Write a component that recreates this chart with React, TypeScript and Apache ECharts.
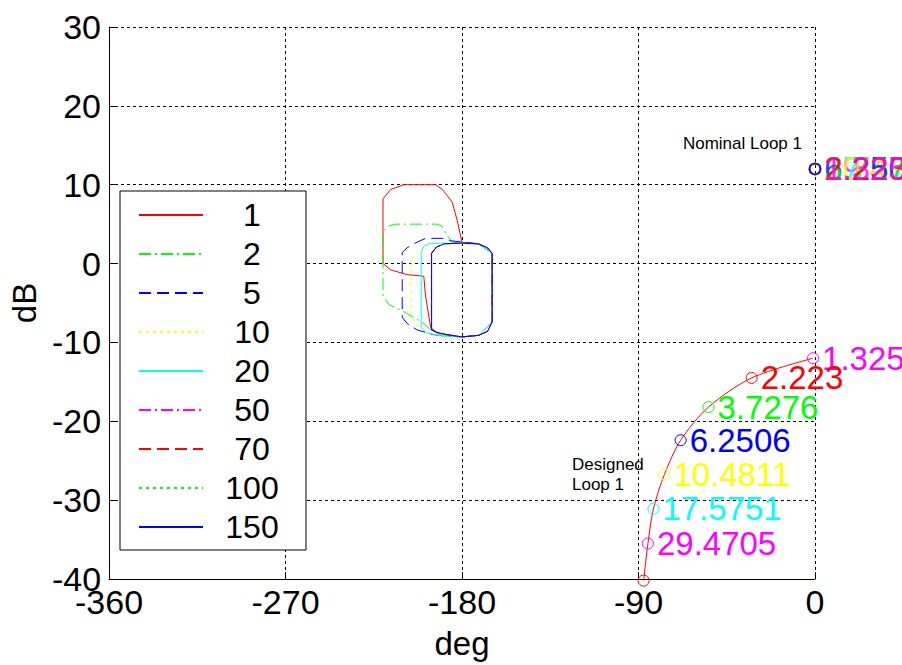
import React, { useEffect, useRef } from 'react';
import * as echarts from 'echarts';

// ---------- data ----------
const phaseTicks = [-360, -270, -180, -90, 0];
const dbTicks = [-40, -30, -20, -10, 0, 10, 20, 30];

const boundNames = ['1', '2', '5', '10', '20', '50', '70', '100', '150'];
const boundColors = ['#ff0000', '#00ff00', '#0000ff', '#ffff00', '#00ffff', '#ff00ff', '#ff0000', '#00ff00', '#0000ff'];
const boundDash: any[] = ['solid', [12, 4, 2, 4], [12, 6], [3, 4], 'solid', [12, 4, 2, 4], [12, 6], [3, 4], 'solid'];

// [deg, dB] contours
const bound1 = [[-171.5, 2.5], [-180, 2.7], [-182.5, 5.5], [-185, 7.8], [-190, 9.4], [-193.5, 10], [-209.6, 10], [-216.4, 9.4], [-220.3, 8.2], [-220.3, 0], [-216.4, -0.8], [-208, -1.4], [-199.5, -1.6], [-198.6, -4.1], [-196, -8.1], [-192.7, -8.8], [-187.6, -9.1], [-180, -9.3], [-171.5, -9.1], [-164.6, -7.4], [-164.6, 1.3], [-171.5, 2.5]];
const bound2 = [[-171.5, 2.5], [-185, 2.7], [-187.6, 3.6], [-190.5, 4.8], [-193, 5.0], [-214, 5.0], [-218, 4.7], [-220.3, 4.0], [-220.3, -4.1], [-217.3, -5.2], [-210.5, -6.0], [-200, -7.5], [-195, -8.6], [-188, -9.1], [-180, -9.3], [-171.5, -9.1], [-164.6, -7.4], [-164.6, 1.3], [-171.5, 2.5]];
const bound5 = [[-171.5, 2.5], [-186, 2.9], [-189.3, 3.2], [-198.6, 3.2], [-204.8, 2.5], [-208, 2.0], [-210.5, 1.4], [-210.5, -6.8], [-208, -7.6], [-203, -8.4], [-195, -9.0], [-188, -9.2], [-180, -9.3], [-171.5, -9.1], [-164.6, -7.4], [-164.6, 1.3], [-171.5, 2.5]];
const bound10 = [[-171.5, 2.5], [-190, 2.6], [-197, 2.6], [-199.4, 2.1], [-202.8, 1.5], [-205.9, 0.3], [-205.9, -6.6], [-202.8, -7.9], [-197, -8.8], [-190, -9.1], [-180, -9.3], [-171.5, -9.1], [-164.6, -7.4], [-164.6, 1.3], [-171.5, 2.5]];
const bound20 = [[-171.5, 2.5], [-190, 2.6], [-197, 2.5], [-199.5, 2.2], [-200.8, 1.5], [-200.8, -8.1], [-198, -8.8], [-190, -9.2], [-180, -9.3], [-171.5, -9.1], [-164.6, -7.4], [-164.6, 1.3], [-171.5, 2.5]];
const bound50 = [[-195.6, 1.3], [-193, 2.1], [-189, 2.5], [-180, 2.6], [-171.5, 2.5], [-167, 2.0], [-164.7, 1.3], [-164.7, -7.4], [-167, -8.6], [-171.5, -9.1], [-180, -9.3], [-188, -9.0], [-193, -8.7], [-195.6, -8.4], [-195.6, 1.3]];
const bound70 = [[-195.6, 1.3], [-193, 2.1], [-189, 2.5], [-180, 2.6], [-171.5, 2.5], [-167, 2.0], [-164.7, 1.3], [-164.7, -7.4], [-167, -8.6], [-171.5, -9.1], [-180, -9.3], [-188, -9.0], [-193, -8.7], [-195.6, -8.4], [-195.6, 1.3]];
const bound100 = [[-195.5, 1.3], [-193, 2.1], [-189, 2.5], [-180, 2.6], [-171.5, 2.5], [-167, 2.0], [-164.6, 1.3], [-164.6, -7.4], [-167, -8.6], [-171.5, -9.1], [-180, -9.3], [-188, -9.0], [-193, -8.7], [-195.5, -8.4], [-195.5, 1.3]];
const bound150 = [[-195.5, 1.3], [-193, 2.1], [-189, 2.5], [-180, 2.6], [-171.5, 2.5], [-167, 2.0], [-164.6, 1.3], [-164.6, -7.4], [-167, -8.6], [-171.5, -9.1], [-180, -9.3], [-188, -9.0], [-193, -8.7], [-195.5, -8.4], [-195.5, 1.3]];
const bounds = [bound1, bound2, bound5, bound10, bound20, bound50, bound70, bound100, bound150];

const designedPhase = [-1, -32.3, -54.3, -68.5, -76.8, -82.4, -85.2, -87.4];
const designedMag = [-12, -14.5, -18.2, -22.4, -26.75, -31.1, -35.5, -40.2];
const freqLabels = ['1.325', '2.223', '3.7276', '6.2506', '10.4811', '17.5751', '29.4705', ''];
const freqColors = ['#ff00ff', '#ff0000', '#00ff00', '#0000ff', '#ffff00', '#00ffff', '#ff00ff', '#ff0000'];

const nominalPhase = [0, 0, 0, 0, 0, 0, 0];
const nominalMag = [12, 12, 12, 12, 12, 12, 12];
const nominalLabels = ['29.4705', '17.5751', '10.4811', '6.2506', '3.7276', '2.223', '1.325'];
const nominalColors = ['#ff00ff', '#00ffff', '#ffff00', '#0000ff', '#00ff00', '#ff0000', '#ff00ff'];

const FONT = '"Liberation Sans", Arial, Helvetica, sans-serif';

function buildOption(): any {
  const boundSeries = bounds.map((b, i) => ({
    type: 'line',
    name: boundNames[i],
    data: b,
    symbol: 'none',
    showSymbol: false,
    silent: true,
    z: 2 + i,
    lineStyle: { color: boundColors[i], width: 1, type: boundDash[i] },
    itemStyle: { color: boundColors[i] },
  }));

  const designed = {
    type: 'line',
    name: 'Designed Loop 1',
    z: 20,
    clip: false,
    silent: true,
    smooth: 0.3,
    symbol: 'circle',
    symbolSize: 11,
    showSymbol: true,
    showAllSymbol: true,
    lineStyle: { color: '#ff0000', width: 1 },
    label: { show: true, position: 'right', distance: 3, fontSize: 33, fontFamily: FONT },
    data: designedPhase.map((x, i) => ({
      value: [x, designedMag[i]],
      itemStyle: { color: 'rgba(0,0,0,0)', borderColor: freqColors[i], borderWidth: 1 },
      label: { show: freqLabels[i] !== '', formatter: freqLabels[i], color: freqColors[i] },
    })),
  };

  const nominal = {
    type: 'scatter',
    name: 'Nominal Loop 1',
    z: 21,
    clip: false,
    silent: true,
    symbol: 'circle',
    symbolSize: 11,
    label: { show: true, position: 'right', distance: 3, fontSize: 33, fontFamily: FONT },
    data: nominalPhase.map((x, i) => ({
      value: [x, nominalMag[i]],
      itemStyle: { color: 'rgba(0,0,0,0)', borderColor: i === nominalPhase.length - 1 ? '#0000ff' : nominalColors[i], borderWidth: 1.5 },
      label: { formatter: nominalLabels[i], color: nominalColors[i] },
    })),
  };

  return {
    animation: false,
    backgroundColor: '#ffffff',
    textStyle: { fontFamily: FONT, color: '#000' },
    grid: { left: 108, right: 87, top: 27, bottom: 78, containLabel: false },
    xAxis: {
      type: 'value',
      min: phaseTicks[0],
      max: phaseTicks[phaseTicks.length - 1],
      interval: 90,
      name: 'deg',
      nameLocation: 'middle',
      nameGap: 48,
      nameTextStyle: { fontSize: 33, color: '#000', fontFamily: FONT },
      axisLine: { onZero: false, lineStyle: { color: '#000', width: 1 } },
      axisTick: { inside: true, length: 7, lineStyle: { color: '#000' } },
      axisLabel: { fontSize: 34, color: '#000', margin: 6, fontFamily: FONT },
      splitLine: { show: true, lineStyle: { color: '#000', width: 1, type: [3, 3] } },
    },
    yAxis: {
      type: 'value',
      min: dbTicks[0],
      max: dbTicks[dbTicks.length - 1],
      interval: 10,
      name: 'dB',
      nameLocation: 'middle',
      nameGap: 56,
      nameRotate: 90,
      nameTextStyle: { fontSize: 33, color: '#000', fontFamily: FONT },
      axisLine: { show: true, onZero: false, lineStyle: { color: '#000', width: 1 } },
      axisTick: { show: true, inside: true, length: 7, lineStyle: { color: '#000' } },
      axisLabel: { fontSize: 34, color: '#000', margin: 8, fontFamily: FONT },
      splitLine: { show: true, lineStyle: { color: '#000', width: 1, type: [3, 3] } },
    },
    legend: {
      show: true,
      data: boundNames,
      orient: 'vertical',
      left: 120,
      top: 191,
      padding: [8, 10, 7, 18],
      itemWidth: 64,
      itemHeight: 34,
      itemGap: 7,
      itemStyle: { opacity: 0 },
      selectedMode: false,
      backgroundColor: '#ffffff',
      borderColor: '#000',
      borderWidth: 1,
      borderRadius: 0,
      formatter: '{a|{name}}',
      textStyle: {
        rich: {
          a: { width: 88, align: 'center', fontSize: 32, lineHeight: 34, color: '#000', fontFamily: FONT },
        },
      },
    },
    graphic: [
      {
        type: 'text',
        x: 802,
        y: 143,
        z: 50,
        style: {
          text: 'Nominal Loop 1',
          fill: '#000',
          fontSize: 17,
          fontFamily: FONT,
          align: 'right',
          verticalAlign: 'middle',
          textAlign: 'right',
          textVerticalAlign: 'middle',
        },
      },
      {
        type: 'text',
        x: 572,
        y: 454,
        z: 50,
        style: {
          text: 'Designed\nLoop 1',
          fill: '#000',
          fontSize: 17,
          lineHeight: 20,
          fontFamily: FONT,
          align: 'left',
          verticalAlign: 'top',
          textAlign: 'left',
          textVerticalAlign: 'top',
        },
      },
    ],
    series: [...boundSeries, designed, nominal],
  };
}

export default function App() {
  const ref = useRef<HTMLDivElement>(null);
  useEffect(() => {
    if (!ref.current) return;
    const chart = echarts.init(ref.current, null, { renderer: 'svg' });
    chart.setOption(buildOption());
    return () => chart.dispose();
  }, []);
  return (
    <div
      ref={ref}
      style={{ position: 'fixed', left: 0, top: 0, width: 902, height: 665, background: '#fff', overflow: 'hidden' }}
    />
  );
}
